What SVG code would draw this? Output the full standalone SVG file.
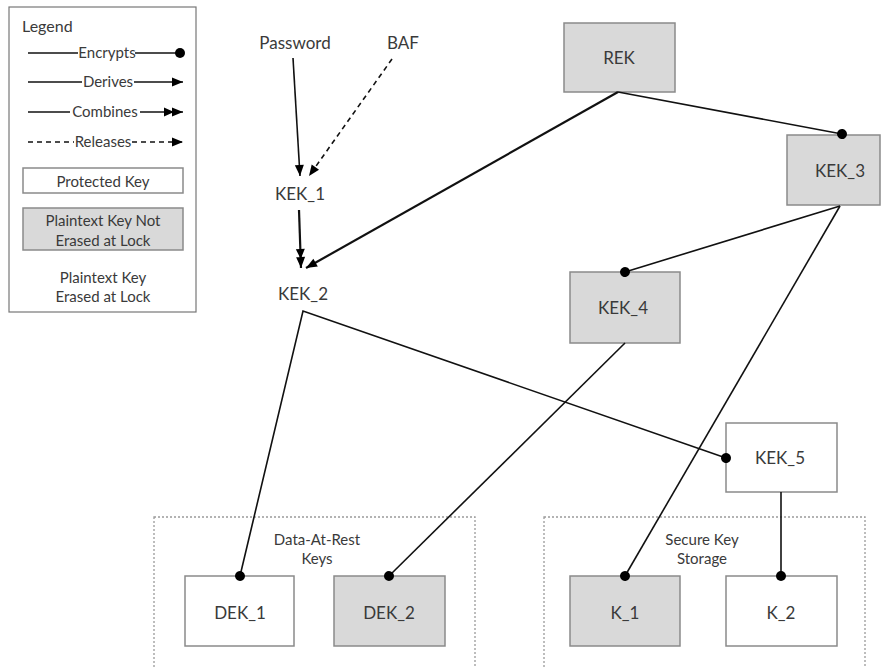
<svg xmlns="http://www.w3.org/2000/svg" width="883" height="668" viewBox="0 0 883 668">
<defs>
<style>
text{font-family:Lato,"Open Sans","Liberation Sans",sans-serif;fill:#3a3a3a;text-anchor:middle;dominant-baseline:central}
.t{font-size:17px}
.l{font-size:15px}
.key{stroke:#8a8a8a;stroke-width:1.5}
.gray{fill:#d9d9d9}
.white{fill:#ffffff}
.grp{fill:none;stroke:#9a9a9a;stroke-width:1.3;stroke-dasharray:2 2}
.c{fill:none;stroke:#111;stroke-width:1.6}
.thick{stroke-width:2.2}
.dash{stroke-dasharray:5 4}
</style>
<marker id="dot" markerUnits="userSpaceOnUse" markerWidth="14" markerHeight="14" refX="7" refY="7" orient="auto"><circle cx="7" cy="7" r="5" fill="#000"/></marker>
<marker id="arr" markerUnits="userSpaceOnUse" markerWidth="14" markerHeight="12" refX="12" refY="6" orient="auto"><path d="M1,1.5 L12,6 L1,10.5 Z" fill="#000"/></marker>
<marker id="arr2" markerUnits="userSpaceOnUse" markerWidth="22" markerHeight="12" refX="20" refY="6" orient="auto"><path d="M1,1.5 L11,6 L1,10.5 Z M9,1.5 L20,6 L9,10.5 Z" fill="#000"/></marker>
</defs>
<rect width="883" height="668" fill="#fff"/>

<g id="legend">
<rect x="9" y="7" width="187" height="305" fill="#fff" stroke="#777" stroke-width="1.2"/>
<text x="22" y="25" style="text-anchor:start;font-size:16px">Legend</text>
<line x1="28" y1="53" x2="78" y2="53" class="c"/>
<line x1="135" y1="53" x2="180" y2="53" class="c" marker-end="url(#dot)"/>
<text x="107" y="52" class="l">Encrypts</text>
<line x1="28" y1="82" x2="82" y2="82" class="c"/>
<line x1="134" y1="82" x2="183" y2="82" class="c" marker-end="url(#arr)"/>
<text x="108" y="81" class="l">Derives</text>
<line x1="28" y1="112" x2="70" y2="112" class="c"/>
<line x1="140" y1="112" x2="183" y2="112" class="c" marker-end="url(#arr2)"/>
<text x="105" y="111" class="l">Combines</text>
<line x1="28" y1="142" x2="74" y2="142" class="c dash"/>
<line x1="132" y1="142" x2="183" y2="142" class="c dash" marker-end="url(#arr)"/>
<text x="103" y="141" class="l">Releases</text>
<rect x="23" y="168" width="160" height="25" class="key white"/>
<text x="103" y="181" class="l">Protected Key</text>
<rect x="23" y="208" width="160" height="42" class="key gray"/>
<text x="103" y="220" class="l">Plaintext Key Not</text>
<text x="103" y="240" class="l">Erased at Lock</text>
<text x="103" y="277" class="l">Plaintext Key</text>
<text x="103" y="296" class="l">Erased at Lock</text>
</g>

<g id="groups">
<rect x="154" y="517" width="321" height="170" class="grp"/>
<text x="317" y="539" class="l">Data-At-Rest</text>
<text x="317" y="558" class="l">Keys</text>
<rect x="544" y="517" width="321" height="170" class="grp"/>
<text x="702" y="539" class="l">Secure Key</text>
<text x="702" y="558" class="l">Storage</text>
</g>

<g id="password"><text x="295" y="42" class="t">Password</text></g>
<g id="baf"><text x="403" y="42" class="t">BAF</text></g>
<g id="kek1"><text x="300" y="193" class="t">KEK_1</text></g>
<g id="kek2"><text x="303" y="293" class="t">KEK_2</text></g>
<g id="rek"><rect x="564" y="23" width="111" height="69" class="key gray"/><text x="619" y="57" class="t">REK</text></g>
<g id="kek3"><rect x="787" y="135" width="93" height="70" class="key gray"/><text x="840" y="170" class="t">KEK_3</text></g>
<g id="kek4"><rect x="570" y="272" width="110" height="71" class="key gray"/><text x="623" y="307" class="t">KEK_4</text></g>
<g id="kek5"><rect x="726" y="423" width="111" height="69" class="key white"/><text x="780" y="457" class="t">KEK_5</text></g>
<g id="dek1"><rect x="185" y="576" width="109" height="70" class="key white"/><text x="240" y="612" class="t">DEK_1</text></g>
<g id="dek2"><rect x="334" y="576" width="111" height="70" class="key gray"/><text x="389" y="612" class="t">DEK_2</text></g>
<g id="k1"><rect x="570" y="576" width="110" height="70" class="key gray"/><text x="625" y="612" class="t">K_1</text></g>
<g id="k2"><rect x="726" y="576" width="111" height="70" class="key white"/><text x="781" y="612" class="t">K_2</text></g>

<g id="connectors">
<line x1="293" y1="58" x2="300" y2="176" class="c" marker-end="url(#arr)"/>
<line x1="392" y1="59" x2="309" y2="176" class="c dash" marker-end="url(#arr)"/>
<line x1="299" y1="210" x2="301" y2="268" class="c thick" marker-end="url(#arr2)"/>
<line x1="618" y1="92" x2="306" y2="268" class="c thick" marker-end="url(#arr)"/>
<line x1="618" y1="92" x2="842" y2="134" class="c" marker-end="url(#dot)"/>
<line x1="840" y1="206" x2="625" y2="272" class="c" marker-end="url(#dot)"/>
<line x1="840" y1="206" x2="625" y2="576" class="c" marker-end="url(#dot)"/>
<line x1="625" y1="343" x2="389" y2="576" class="c" marker-end="url(#dot)"/>
<polyline points="240,576 303,311 726,458" class="c" marker-start="url(#dot)" marker-end="url(#dot)"/>
<line x1="781" y1="492" x2="781" y2="576" class="c" marker-end="url(#dot)"/>
</g>
</svg>
